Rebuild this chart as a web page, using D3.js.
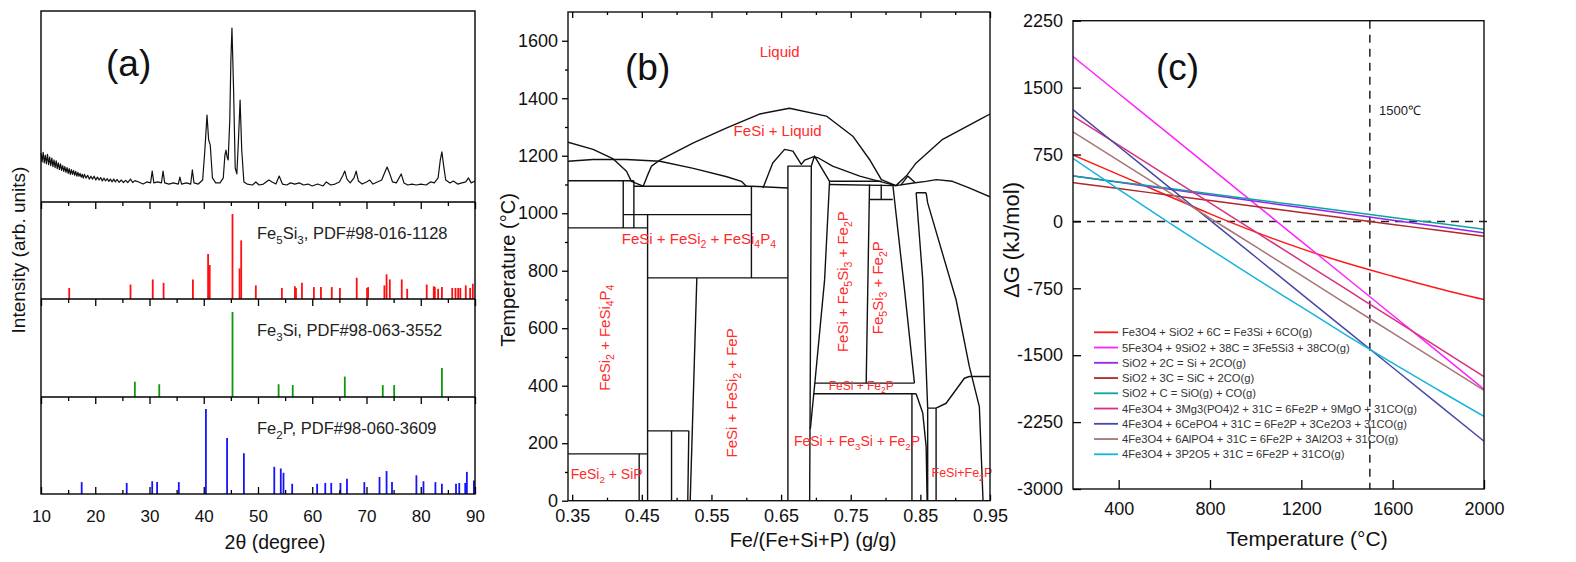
<!DOCTYPE html>
<html>
<head>
<meta charset="utf-8">
<script src="https://cdn.jsdelivr.net/npm/d3@7"></script>
<style>
body { margin: 0; background: #fff; }
svg { font-family: "Liberation Sans", Arial, sans-serif; }
</style>
</head>
<body>
<svg></svg>
<script>
// ---------- data: panel (a) XRD ----------
var xrdPattern = [
  [10.0,25.5],[10.2,21],[10.4,26],[10.6,20.5],[10.8,24.5],[11.0,20],[11.2,25],[11.4,19.5],[11.6,23.5],
  [11.8,19],[12.0,23],[12.2,18.5],[12.4,22],[12.6,18],[12.8,21.5],[13.0,17.5],[13.2,20.5],[13.4,17],
  [13.6,20],[13.8,16.5],[14.0,19],[14.2,16],[14.4,18.5],[14.6,15.5],[14.8,18],[15.0,15],[15.2,17.5],
  [15.4,14.5],[15.6,17],[15.8,14.5],[16.0,16.5],[16.2,14],[16.4,16],[16.6,13.5],[16.8,15.5],[17.0,13.5],
  [17.2,15],[17.4,13],[17.6,14.5],[17.8,12.5],[18.0,14.5],[18.3,12.5],[18.6,14],[18.9,12],[19.2,13.5],
  [19.5,12],[19.8,13.5],[20.1,11.5],[20.4,13],[20.7,11.5],[21.0,12.8],[21.3,11],[21.6,12.5],[21.9,11],
  [22.2,12.3],[22.5,10.8],[22.8,12],[23.1,10.5],[23.4,12],[23.7,10.5],[24.0,11.8],[24.4,10.3],[24.8,11.5],
  [25.2,10.2],[25.6,11.3],[26.0,10.2],[26.5,12],[26.9,10.2],[27.3,11.2],[28.0,10.5],[28.8,9.4],
  [29.5,10.5],[30.2,10],[30.5,16.2],[30.8,10],[31.5,10.5],[32.2,10],[32.5,16.2],[32.8,10],[33.6,9.4],
  [34.4,10],[35.3,9.4],[35.6,13],[35.9,9.4],[36.8,10],[37.6,9.4],[37.9,16.8],[38.2,10],[39.0,9.4],
  [39.8,11.5],[40.2,27],[40.6,45.5],[40.9,32.5],[41.2,29.8],[41.6,12.6],[42.2,10],[43.0,10],[43.6,12.6],
  [43.9,24.6],[44.1,27.2],[44.3,23.6],[44.5,22],[44.8,42.9],[45.0,74.3],[45.2,91.1],[45.5,58.6],
  [45.8,17.8],[46.1,14.7],[46.4,32.5],[46.7,53.4],[47.0,27.2],[47.4,10.5],[48.0,9.4],[49.0,8.9],
  [49.6,10.5],[50.2,8.9],[51.0,9.4],[52.0,11.5],[52.6,10.5],[53.3,9.4],[53.9,13.6],[54.5,9.4],
  [55.3,8.9],[56.0,10],[56.8,9.4],[57.6,10],[58.4,8.9],[59.2,9.4],[60.0,8.4],[61.0,9.4],[62.0,8.4],
  [62.6,10.5],[63.4,8.9],[64.2,9.4],[65.0,10.5],[65.6,13.6],[66.0,16.2],[66.4,12],[67.0,10],[67.7,12.6],
  [68.1,16.2],[68.5,11],[69.2,9.4],[70.0,10.5],[70.6,11.5],[71.2,9.4],[72.0,10.5],[72.8,11.5],
  [73.4,15.7],[73.8,18.3],[74.3,14.7],[74.8,10.5],[75.5,10],[76.4,14.7],[76.9,10],[77.6,8.9],[78.4,9.4],
  [79.2,8.9],[80.0,9.4],[81.0,8.9],[81.8,10.5],[82.5,10],[83.2,12.6],[83.6,22],[83.9,26.2],[84.2,19.4],
  [84.6,11.5],[85.4,10],[86.0,11],[86.8,9.4],[87.6,10],[88.3,10.5],[88.8,12.6],[89.3,10],[90.0,11]
]
var fe5si3Peaks = [
  [15.2,13],[26.5,17],[30.6,23],[32.6,19],[38.0,23],[40.8,53],[41.1,40],[45.3,100],[46.6,36],[46.9,69],
  [49.6,16],[54.4,13],[56.8,15],[57.0,13],[58.1,19],[60.3,14],[61.6,14],[63.6,14],[65.1,13],[68.2,25],
  [70.1,13],[70.3,14],[73.3,16],[73.7,29],[74.3,23],[76.5,23],[77.5,12],[81.1,17],[82.4,15],[82.6,14],
  [83.2,12],[83.9,14],[85.8,13],[86.4,13],[86.9,13],[87.3,13],[88.3,16],[89.1,13],[89.6,18]
]
var fe3siPeaks = [
  [27.3,18],[31.8,15],[45.3,100],[53.8,15],[56.4,14],[66.0,24],[73.0,14],[75.1,14],[83.9,34]
]
var fe2pPeaks = [
  [17.5,14],[25.8,13],[30.5,15],[31.4,14],[35.4,14],[40.4,100],[44.3,66],[47.4,48],[53.0,32],[54.2,30],
  [54.7,25],[56.3,12],[60.9,12],[62.4,13],[63.5,13],[65.2,13],[66.4,18],[69.6,14],[72.4,20],[73.7,27],
  [74.7,14],[79.2,22],[80.5,15],[82.7,14],[83.9,12],[86.5,12],[87.1,13],[88.2,13],[88.5,26],[89.8,16]
]
var thetaTicks = [10, 20, 30, 40, 50, 60, 70, 80, 90]

// ---------- data: panel (b) phase diagram, [Fe/(Fe+Si+P), T] ----------
var phaseLines = [
  [[0.344,1247],[0.380,1222],[0.409,1189],[0.428,1146],[0.435,1111],[0.452,1094]],
  [[0.452,1094],[0.4577,1129],[0.464,1164],[0.476,1185],[0.524,1245],[0.572,1297],[0.619,1345],[0.662,1365],
   [0.715,1338],[0.753,1268],[0.777,1187],[0.794,1117],[0.815,1096]],
  [[0.344,1181],[0.380,1187],[0.428,1187],[0.476,1181],[0.524,1156],[0.572,1127],[0.593,1111],[0.600,1094]],
  [[0.624,1088],[0.638,1175],[0.655,1222],[0.667,1216],[0.679,1170],[0.684,1185],[0.696,1196],[0.703,1193],
   [0.724,1164],[0.763,1129],[0.791,1111],[0.815,1096]],
  [[0.815,1096],[0.830,1130],[0.844,1175],[0.882,1257],[0.935,1326],[0.950,1345]],
  [[0.815,1096],[0.840,1105],[0.858,1111],[0.873,1117],[0.896,1111],[0.920,1088],[0.950,1057]],
  [[0.822,1098],[0.832,1129],[0.842,1108]],
  [[0.344,1113],[0.4386,1113]],
  [[0.4233,1113],[0.4233,949]],
  [[0.4386,1113],[0.4386,949]],
  [[0.344,949],[0.4583,949]],
  [[0.4233,995],[0.6074,995]],
  [[0.4386,1094],[0.6074,1094],[0.6598,1088]],
  [[0.4583,995],[0.4583,0]],
  [[0.6074,1094],[0.6074,775]],
  [[0.4583,775],[0.6598,775]],
  [[0.344,163],[0.4583,163]],
  [[0.4462,163],[0.4462,0]],
  [[0.4583,243],[0.5175,243]],
  [[0.4927,243],[0.4927,0]],
  [[0.5175,243],[0.5160,0]],
  [[0.5290,775],[0.5195,0]],
  [[0.6598,0],[0.6598,1164],[0.6934,1164],[0.691,0]],
  [[0.6934,1164],[0.698,1199],[0.7196,1111],[0.7125,769],[0.6981,400],[0.692,250]],
  [[0.7196,1111],[0.794,1111]],
  [[0.7196,1100],[0.8153,1096]],
  [[0.777,1100],[0.7722,409]],
  [[0.777,1048],[0.8104,1048]],
  [[0.7938,1100],[0.7938,1048]],
  [[0.8104,1100],[0.8272,735],[0.8415,409]],
  [[0.6981,409],[0.8415,409]],
  [[0.6971,372],[0.8439,372]],
  [[0.8379,372],[0.8379,0]],
  [[0.8439,372],[0.8534,305],[0.8583,188],[0.8597,0]],
  [[0.8605,322],[0.8605,0]],
  [[0.8726,322],[0.8726,0]],
  [[0.8605,322],[0.8726,322]],
  [[0.8726,322],[0.887,339],[0.9132,426],[0.9203,432],[0.950,432]],
  [[0.8439,1071],[0.8534,769],[0.8605,322]],
  [[0.8439,1071],[0.8583,1071]],
  [[0.8583,1071],[0.8605,1036],[0.9013,699],[0.9203,467],[0.9347,327],[0.940,0]]
]
var compTicks = [0.35, 0.45, 0.55, 0.65, 0.75, 0.85, 0.95]
var tempTicks = [0, 200, 400, 600, 800, 1000, 1200, 1400, 1600]

// ---------- data: panel (c) Gibbs energy ----------
var gTemps = [200, 400, 600, 800, 1000, 1200, 1400, 1600, 1800, 2000]
var reactions = [
  'Fe3O4 + SiO2 + 6C = Fe3Si + 6CO(g)',
  '5Fe3O4 + 9SiO2 + 38C = 3Fe5Si3 + 38CO(g)',
  'SiO2 + 2C = Si + 2CO(g)',
  'SiO2 + 3C = SiC + 2CO(g)',
  'SiO2 + C = SiO(g) + CO(g)',
  '4Fe3O4 + 3Mg3(PO4)2 + 31C = 6Fe2P + 9MgO + 31CO(g)',
  '4Fe3O4 + 6CePO4 + 31C = 6Fe2P + 3Ce2O3 + 31CO(g)',
  '4Fe3O4 + 6AlPO4 + 31C = 6Fe2P + 3Al2O3 + 31CO(g)',
  '4Fe3O4 + 3P2O5 + 31C = 6Fe2P + 31CO(g)'
]
var dgFe3Si   = [744, 525, 305, 85, -120, -305, -470, -615, -752, -877]
var dgFe5Si3  = [1848, 1434, 1020, 605, 191, -223, -637, -1052, -1466, -1880]
var dgSi      = [510, 439, 368, 297, 226, 155, 84, 13, -58, -129]
var dgSiC     = [435, 368, 301, 234, 167, 100, 33, -34, -100, -167]
var dgSiO     = [510, 443, 377, 310, 244, 177, 111, 44, -22, -89]
var dgMgPO4   = [1179, 855, 531, 207, -118, -442, -766, -1090, -1415, -1739]
var dgCePO4   = [1253, 840, 427, 14, -399, -812, -1225, -1638, -2051, -2464]
var dgAlPO4   = [1004, 682, 360, 38, -284, -606, -929, -1251, -1573, -1895]
var dgP2O5    = [707, 360, 20, -310, -640, -959, -1280, -1590, -1890, -2185]
var dgTicks = [-3000, -2250, -1500, -750, 0, 750, 1500, 2250]
var tTicks = [400, 800, 1200, 1600, 2000]

var dgSeries = [dgFe3Si, dgFe5Si3, dgSi, dgSiC, dgSiO, dgMgPO4, dgCePO4, dgAlPO4, dgP2O5]
var dgColors = ['#ff1a1a', '#ff22ff', '#9a22ee', '#b02828', '#0aa5a0', '#d8307e', '#4848a8', '#a87474', '#14b4dc']

var svg = d3.select('svg').attr('width', 1576).attr('height', 562)
var plain = function(d) { return String(d) }

// text with _n subscripts
function richText(t, str, fs) {
  var parts = str.split(/(_\d+)/), sub = false
  parts.forEach(function(p) {
    if (!p) return
    if (p[0] === '_') {
      t.append('tspan').attr('font-size', fs * 0.7).attr('dy', sub ? 0 : fs * 0.28).text(p.slice(1))
      sub = true
    } else {
      t.append('tspan').attr('dy', sub ? -fs * 0.28 : 0).text(p)
      sub = false
    }
  })
  return t
}

function styleAxis(g, fs) {
  g.select('.domain').remove()
  g.selectAll('line').attr('stroke', '#000').attr('stroke-width', 1.3)
  g.selectAll('text').attr('font-size', fs).attr('fill', '#111')
    .attr('font-family', '"Liberation Sans", Arial, sans-serif')
}

// ================= panel (a) =================
var ax = d3.scaleLinear().domain([10, 90]).range([41, 475])
var aBands = [[11, 202], [202, 299], [299, 397], [397, 494]]
var aTop = d3.scaleLinear().domain([0, 100]).range([202, 11])
var pa = svg.append('g')

pa.append('path')
  .datum(xrdPattern)
  .attr('fill', 'none').attr('stroke', '#111').attr('stroke-width', 1.2)
  .attr('stroke-linejoin', 'round')
  .attr('d', d3.line().x(function(d) { return ax(d[0]) }).y(function(d) { return aTop(d[1]) }))

var stickSets = [
  {peaks: fe5si3Peaks, color: '#ff1010', band: aBands[1], label: 'Fe_5Si_3, PDF#98-016-1128'},
  {peaks: fe3siPeaks, color: '#0c9a0c', band: aBands[2], label: 'Fe_3Si, PDF#98-063-3552'},
  {peaks: fe2pPeaks, color: '#1414ff', band: aBands[3], label: 'Fe_2P, PDF#98-060-3609'}
]
stickSets.forEach(function(s) {
  var sy = d3.scaleLinear().domain([0, 100]).range([s.band[1], s.band[1] - 85])
  pa.append('g').selectAll('line')
    .data(s.peaks).enter().append('line')
    .attr('x1', function(d) { return ax(d[0]) }).attr('x2', function(d) { return ax(d[0]) })
    .attr('y1', sy(0)).attr('y2', function(d) { return sy(d[1]) })
    .attr('stroke', s.color).attr('stroke-width', 1.8)
  richText(pa.append('text').attr('x', 257).attr('y', s.band[0] + 37)
    .attr('font-size', 16.5).attr('fill', '#222'), s.label, 16.5)
})

// frame and dividers
pa.append('rect').attr('x', 41).attr('y', 11).attr('width', 434).attr('height', 483)
  .attr('fill', 'none').attr('stroke', '#000').attr('stroke-width', 1.4)
aBands.slice(1).forEach(function(b) {
  pa.append('line').attr('x1', 41).attr('x2', 475).attr('y1', b[0]).attr('y2', b[0])
    .attr('stroke', '#000').attr('stroke-width', 1.4)
  pa.append('g').attr('transform', 'translate(0,' + b[0] + ')')
    .call(d3.axisBottom(ax).tickValues(thetaTicks).tickSize(7).tickFormat(''))
    .call(styleAxis, 0)
  pa.append('g').attr('transform', 'translate(0,' + b[0] + ')')
    .call(d3.axisBottom(ax).tickValues(d3.range(15, 90, 10)).tickSize(4).tickFormat(''))
    .call(styleAxis, 0)
})
pa.append('g').attr('transform', 'translate(0,494)')
  .call(d3.axisBottom(ax).tickValues(thetaTicks).tickSizeInner(-7).tickSizeOuter(0).tickPadding(16)
    .tickFormat(plain))
  .call(styleAxis, 17)
pa.append('g').attr('transform', 'translate(0,494)')
  .call(d3.axisBottom(ax).tickValues(d3.range(15, 90, 10)).tickSize(-4).tickFormat(''))
  .call(styleAxis, 0)

pa.append('text').attr('x', 275).attr('y', 549).attr('text-anchor', 'middle')
  .attr('font-size', 19.5).attr('fill', '#111').text('2θ (degree)')
pa.append('text').attr('transform', 'translate(25,250) rotate(-90)').attr('text-anchor', 'middle')
  .attr('font-size', 19).attr('fill', '#111').text('Intensity (arb. units)')
pa.append('text').attr('x', 106).attr('y', 76).attr('font-size', 37).attr('fill', '#111').text('(a)')

// ================= panel (b) =================
var bx = d3.scaleLinear().domain([0.344, 0.95]).range([568, 990])
var by = d3.scaleLinear().domain([0, 1700]).range([500.7, 12])
var pb = svg.append('g')
pb.append('clipPath').attr('id', 'clipb').append('rect')
  .attr('x', 568).attr('y', 12).attr('width', 422).attr('height', 488.7)

pb.append('g').attr('clip-path', 'url(#clipb)').selectAll('path')
  .data(phaseLines).enter().append('path')
  .attr('fill', 'none').attr('stroke', '#111').attr('stroke-width', 1.4)
  .attr('stroke-linejoin', 'round')
  .attr('d', d3.line().x(function(d) { return bx(d[0]) }).y(function(d) { return by(d[1]) }))

var phaseLabels = [
  ['Liquid', 0.648, 1545, 0, 15, 'middle'],
  ['FeSi + Liquid', 0.645, 1267, 0, 15, 'middle'],
  ['FeSi + FeSi_2 + FeSi_4P_4', 0.532, 893, 0, 15, 'middle'],
  ['FeSi_2 + FeSi_4P_4', 0.404, 567, -90, 15, 'middle'],
  ['FeSi + FeSi_2 + FeP', 0.587, 375, -90, 15, 'middle'],
  ['FeSi_2 + SiP', 0.3995, 75, 0, 14, 'middle'],
  ['FeSi + Fe_5Si_3 + Fe_2P', 0.746, 762, -90, 15, 'middle'],
  ['Fe_5Si_3 + Fe_2P', 0.796, 741, -90, 15, 'middle'],
  ['FeSi + Fe_2P', 0.765, 386, 0, 12, 'middle'],
  ['FeSi + Fe_3Si + Fe_2P', 0.759, 191, 0, 14, 'middle'],
  ['FeSi+Fe_2P', 0.866, 82, 0, 12.5, 'start']
]
phaseLabels.forEach(function(l) {
  var t = pb.append('text')
    .attr('transform', 'translate(' + bx(l[1]) + ',' + by(l[2]) + ') rotate(' + l[3] + ')')
    .attr('text-anchor', l[5]).attr('dy', l[4] * 0.36)
    .attr('font-size', l[4]).attr('fill', '#ff2a2a')
  richText(t, l[0], l[4])
})

pb.append('rect').attr('x', 568).attr('y', 12).attr('width', 422).attr('height', 488.7)
  .attr('fill', 'none').attr('stroke', '#111').attr('stroke-width', 1.4)
pb.append('g').attr('transform', 'translate(0,500.7)')
  .call(d3.axisBottom(bx).tickValues(compTicks).tickSizeInner(-6).tickSizeOuter(0).tickPadding(9)
    .tickFormat(d3.format('.2f')))
  .call(styleAxis, 18)
pb.append('g').attr('transform', 'translate(0,500.7)')
  .call(d3.axisBottom(bx).tickValues([0.40, 0.50, 0.60, 0.70, 0.80, 0.90]).tickSize(-3).tickFormat(''))
  .call(styleAxis, 0)
pb.append('g').attr('transform', 'translate(0,12)')
  .call(d3.axisTop(bx).tickValues(compTicks).tickSize(-6).tickFormat(''))
  .call(styleAxis, 0)
pb.append('g').attr('transform', 'translate(0,12)')
  .call(d3.axisTop(bx).tickValues([0.40, 0.50, 0.60, 0.70, 0.80, 0.90]).tickSize(-3).tickFormat(''))
  .call(styleAxis, 0)
pb.append('g').attr('transform', 'translate(568,0)')
  .call(d3.axisLeft(by).tickValues(tempTicks).tickSizeInner(6).tickSizeOuter(0).tickPadding(4)
    .tickFormat(plain))
  .call(styleAxis, 18)
pb.append('g').attr('transform', 'translate(568,0)')
  .call(d3.axisLeft(by).tickValues(d3.range(100, 1700, 200)).tickSize(3).tickFormat(''))
  .call(styleAxis, 0)

pb.append('text').attr('x', 813).attr('y', 547).attr('text-anchor', 'middle')
  .attr('font-size', 20).attr('fill', '#111').text('Fe/(Fe+Si+P) (g/g)')
pb.append('text').attr('transform', 'translate(515,270) rotate(-90)').attr('text-anchor', 'middle')
  .attr('font-size', 20).attr('fill', '#111').text('Temperature (°C)')
pb.append('text').attr('x', 625).attr('y', 80).attr('font-size', 37).attr('fill', '#111').text('(b)')

// ================= panel (c) =================
var cx = d3.scaleLinear().domain([200, 2000]).range([1073, 1484])
var cy = d3.scaleLinear().domain([-3000, 2250]).range([489, 20.7])
var pc = svg.append('g')
pc.append('clipPath').attr('id', 'clipc').append('rect')
  .attr('x', 1073).attr('y', 20.7).attr('width', 411).attr('height', 468.3)

// reference lines
pc.append('line').attr('x1', 1073).attr('x2', 1490).attr('y1', cy(0)).attr('y2', cy(0))
  .attr('stroke', '#222').attr('stroke-width', 1.5).attr('stroke-dasharray', '8,6')
pc.append('line').attr('x1', cx(1500)).attr('x2', cx(1500)).attr('y1', 20.7).attr('y2', 489)
  .attr('stroke', '#222').attr('stroke-width', 1.5).attr('stroke-dasharray', '8,6')

var gLine = d3.line().curve(d3.curveMonotoneX)
  .x(function(d, i) { return cx(gTemps[i]) }).y(function(d) { return cy(d) })
pc.append('g').attr('clip-path', 'url(#clipc)').selectAll('path')
  .data(dgSeries).enter().append('path')
  .attr('fill', 'none').attr('stroke-width', 1.5)
  .attr('stroke', function(d, i) { return dgColors[i] })
  .attr('d', gLine)

pc.append('rect').attr('x', 1073).attr('y', 20.7).attr('width', 411).attr('height', 468.3)
  .attr('fill', 'none').attr('stroke', '#111').attr('stroke-width', 1.4)
pc.append('g').attr('transform', 'translate(0,489)')
  .call(d3.axisBottom(cx).tickValues(tTicks).tickSizeInner(-9).tickSizeOuter(0).tickPadding(13)
    .tickFormat(plain))
  .call(styleAxis, 18)
pc.append('g').attr('transform', 'translate(1073,0)')
  .call(d3.axisLeft(cy).tickValues(dgTicks).tickSizeInner(-8).tickSizeOuter(0).tickPadding(10)
    .tickFormat(plain))
  .call(styleAxis, 18)

// legend
var leg = pc.append('g').selectAll('g').data(reactions).enter().append('g')
  .attr('transform', function(d, i) { return 'translate(1094,' + (332.3 + i * 15.25) + ')' })
leg.append('line').attr('x1', 0).attr('x2', 24).attr('y1', 0).attr('y2', 0)
  .attr('stroke-width', 1.8).attr('stroke', function(d, i) { return dgColors[i] })
leg.append('text').attr('x', 28).attr('dy', '0.36em').attr('font-size', 11.2)
  .attr('fill', '#333').text(function(d) { return d })

pc.append('text').attr('x', 1379).attr('y', 115).attr('font-size', 13).attr('fill', '#222').text('1500℃')
pc.append('text').attr('x', 1307).attr('y', 546).attr('text-anchor', 'middle')
  .attr('font-size', 21).attr('fill', '#111').text('Temperature (°C)')
pc.append('text').attr('transform', 'translate(1019,240) rotate(-90)').attr('text-anchor', 'middle')
  .attr('font-size', 22).attr('fill', '#111').text('ΔG (kJ/mol)')
pc.append('text').attr('x', 1156).attr('y', 80).attr('font-size', 37).attr('fill', '#111').text('(c)')
</script>
</body>
</html>
